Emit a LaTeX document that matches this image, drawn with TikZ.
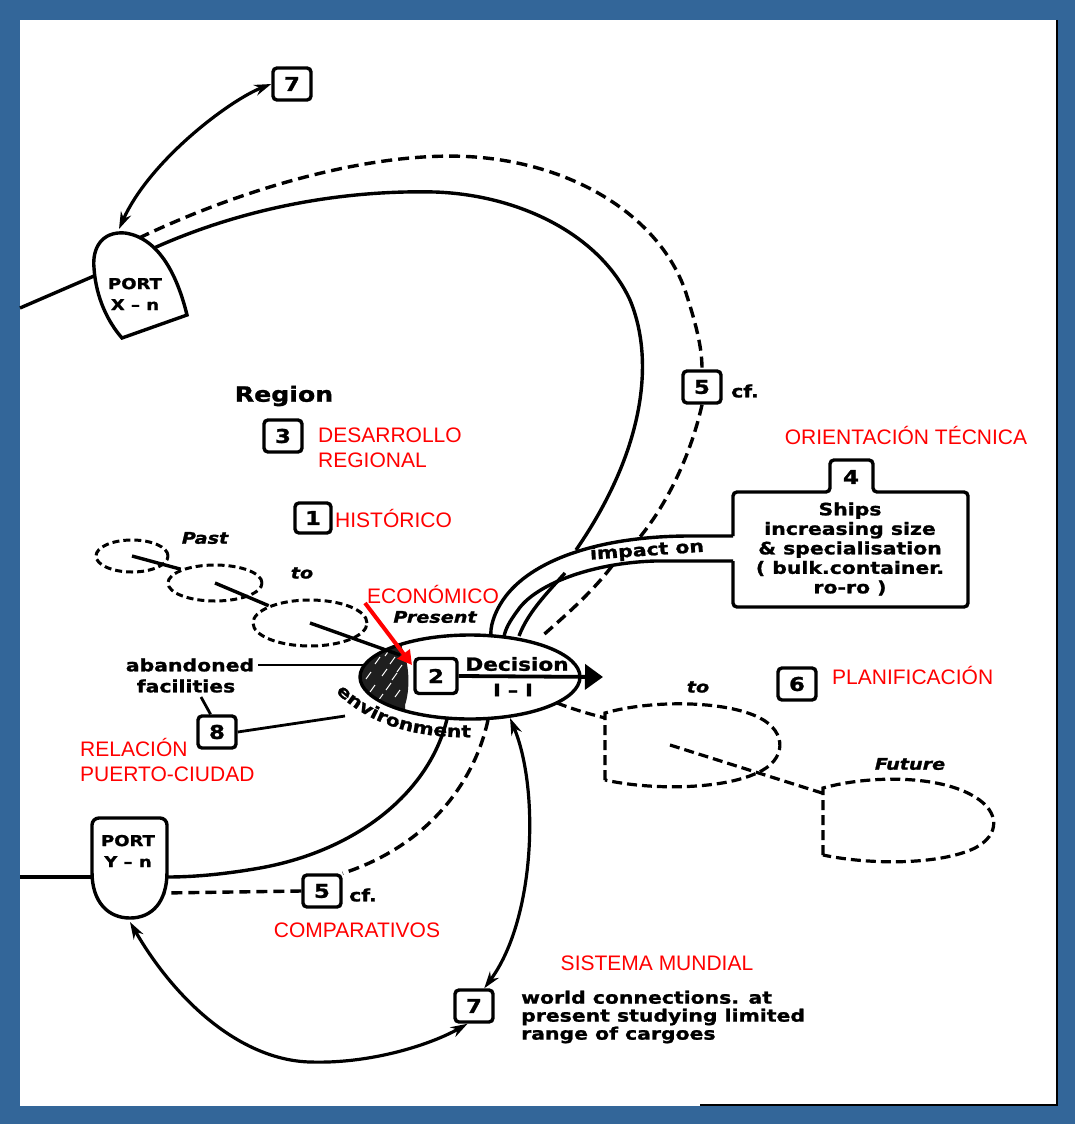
\documentclass[tikz,border=0pt]{standalone}
\usepackage{fontspec}
\setmainfont{Liberation Sans}
\newfontfamily\dfont[FakeStretch=1.2, BoldFeatures={FakeBold=1.3}, BoldItalicFeatures={FakeBold=1.3}]{DejaVu Sans}
\usetikzlibrary{arrows.meta,decorations.text,shapes.geometric}
\definecolor{frameblue}{RGB}{51,102,153}
\begin{document}
\begin{tikzpicture}[x=1pt,y=-1pt,
  ln/.style={line width=3.4pt},
  dsh/.style={line width=3.4pt, dash pattern=on 11pt off 6pt},
  edsh/.style={line width=3pt, dash pattern=on 7pt off 4pt},
  fdsh/.style={line width=3.2pt, dash pattern=on 10pt off 5pt},
  numbox/.style={draw, line width=3.4pt, rounded corners=4pt, minimum width=38pt, minimum height=32pt, inner sep=0pt, fill=white, font=\dfont\bfseries\fontsize{19}{19}\selectfont},
  blk/.style={inner sep=0pt, font=\dfont\bfseries\fontsize{17}{19.5}\selectfont},
  ital/.style={inner sep=0pt, font=\dfont\bfseries\itshape\fontsize{16}{16}\selectfont},
  rlbl/.style={inner sep=0pt, text=red, font=\fontsize{21}{25}\selectfont},
  dbl/.style={line width=3.2pt, {Stealth[length=17pt,width=11pt]}-{Stealth[length=17pt,width=11pt]}},
]
% frame
\fill[frameblue] (0,0) rectangle (1075,1124);
\fill[white] (20,20) rectangle (1058,1106);
\draw[line width=2pt] (1057,20) -- (1057,1105) -- (700,1105);

% ---------- PORT X-n ----------
\draw[ln] (122,338) -- (187,315) .. controls (178,278) and (160,238) .. (125,233) .. controls (102,231) and (92,248) .. (94,268) .. controls (96,298) and (108,322) .. (122,338) -- cycle;
\node[blk, font=\dfont\bfseries\fontsize{15}{21}\selectfont, align=center] (portx) at (135,294) {PORT\\X – n};
\coordinate (pxtop) at (119,229);
\coordinate (pxw) at (94,276);
\coordinate (lb1) at (20,308);
\coordinate (pxsolid) at (154,248);
\coordinate (pxdash) at (139,238);
\draw[ln] (lb1) -- (pxw);

% top box 7
\node[numbox] (b7a) at (292,84) {7};
\draw[dbl] (b7a.west) .. controls (230,100) and (150,160) .. (pxtop);

% box 5 upper
\node[numbox] (b5a) at (702,387) {5};
\node[blk] (cfa) at (745,391) {cf.};

% band / box 4
\coordinate (b4w1) at (733,536);
\coordinate (b4w2) at (733,561);
\coordinate (bandjoin) at (576,550);
\coordinate (bandtop) at (640,537);
\coordinate (bandbot) at (612,566);
\coordinate (elltop3) at (540,638);

% solid big loop
\draw[ln] (pxsolid) .. controls (250,205) and (350,190) .. (435,192) .. controls (520,195) and (600,235) .. (630,300) .. controls (655,360) and (645,450) .. (bandjoin);
\draw[ln] (565,573) .. controls (548,592) and (528,612) .. (519,636);
% dashed big loop
\draw[dsh] (pxdash) .. controls (250,185) and (380,150) .. (475,157) .. controls (580,165) and (660,220) .. (685,290) .. controls (698,330) and (702,350) .. (b5a.north);
\draw[dsh] (b5a.south) .. controls (692,450) and (670,500) .. (bandtop);
\draw[dsh] (bandbot) .. controls (590,595) and (560,620) .. (elltop3);

% band lines
\draw[ln] (b4w1) -- (690,536) .. controls (600,536) and (530,560) .. (503,600) .. controls (493,615) and (490,628) .. (491,637);
\draw[ln] (b4w2) -- (655,561) .. controls (590,563) and (535,585) .. (518,610) .. controls (509,622) and (505,630) .. (504,637);
\node[blk, rotate=4] (imp) at (647,551) {impact on};

% box 4
\draw[ln, rounded corners=4pt] (b4w1) -- (733,492) -- (830,492) -- (830,460) -- (873,460) -- (873,492) -- (968,492) -- (968,607) -- (733,607) -- (b4w2);
\node[blk, font=\dfont\bfseries\fontsize{19}{19}\selectfont] (n4) at (851,477) {4};
\node[blk, align=center] (ships) at (850,549) {Ships\\increasing size\\\& specialisation\\( bulk.container.\\ro-ro )};

% ---------- main ellipse ----------
\begin{scope}
\clip (470,677) ellipse [x radius=110pt, y radius=42pt];
\fill[black!88] (340,600) -- (401,600) -- (402,648) .. controls (410,665) and (410,690) .. (405,705) -- (405,760) -- (340,760) -- cycle;
\foreach \a/\b in {370/692,378/701,386/690,382/676,392/680,390/664,397/672,375/664,366/679,395/697,385/656}
  \draw[white, line width=1pt] (\a,\b) -- ++(5,-7);
\end{scope}
\node[draw, ellipse, line width=3.4pt, minimum width=220pt, minimum height=84pt, inner sep=0pt] (ell) at (470,677) {};
\node[numbox, minimum width=42pt, minimum height=35pt] (b2) at (436,676) {2};
\node[blk, font=\dfont\bfseries\fontsize{18}{18}\selectfont] (dec) at (517,664) {Decision};
\node[blk] (ii) at (513,690) {I – I};
\coordinate (decend) at (603,677);
\draw[line width=3.8pt, -{Triangle[length=18pt,width=25pt]}] (b2.east) -- (decend);

% environment
\coordinate (env1) at (328,684);
\coordinate (env2) at (482,737);
\path[decorate, decoration={text along path, text={|\dfont\bfseries\fontsize{17}{17}\selectfont|environment}, text align=center}] (env1) .. controls (362,722) and (410,740) .. (env2);

% ---------- past chain ----------
\node[draw, edsh, ellipse, minimum width=72pt, minimum height=32pt, inner sep=0pt] (pe1) at (132,556) {};
\node[draw, edsh, ellipse, minimum width=94pt, minimum height=36pt, inner sep=0pt] (pe2) at (215,583) {};
\node[draw, edsh, ellipse, minimum width=114pt, minimum height=46pt, inner sep=0pt] (pe3) at (310,623) {};
\coordinate (chainend) at (400,655);
\draw[ln] (pe1.center) -- (pe2.north west);
\draw[ln] (pe2.center) -- (pe3.north west);
\draw[ln] (pe3.center) -- (chainend);
\node[ital] (past) at (205,538) {Past};
\node[ital] (to1) at (302,573) {to};
\node[ital] (pres) at (435,617) {Present};

% red arrow
\coordinate (ra1) at (365,603);
\coordinate (ra2) at (412,665);
\draw[red, line width=4pt, -{Triangle[length=14pt,width=15pt]}] (ra1) -- (ra2);

% ---------- left labels ----------
\node[blk, font=\dfont\bfseries\fontsize{21}{21}\selectfont] (reg) at (284,396) {Region};
\node[numbox] (b3) at (283,436) {3};
\node[numbox, minimum width=36pt, minimum height=30pt] (b1) at (313,518) {1};
\node[blk] (aband) at (190,665) {abandoned};
\node[blk] (facil) at (186,686) {facilities};
\node[numbox] (b8) at (217,732) {8};
\coordinate (abe) at (364,665);
\coordinate (fb) at (201,697);
\coordinate (b8e) at (345,716);
\draw[line width=2.8pt] (aband.east) ++(4,0) -- (abe);
\draw[line width=2.8pt] (fb) -- (b8.110);
\draw[line width=2.8pt] (b8.east) -- (b8e);

% ---------- future ----------
\node[numbox] (b6) at (797,684) {6};
\coordinate (ef) at (557,703);
\coordinate (f1w) at (605,718);
\coordinate (f1c) at (670,745);
\coordinate (f2w) at (822,793);
\draw[fdsh] (605,780) -- (605,713) .. controls (650,700) and (725,700) .. (760,718) .. controls (787,732) and (787,760) .. (757,773) .. controls (720,790) and (650,790) .. (605,780) -- cycle;
\draw[fdsh] (823,855) -- (823,788) .. controls (870,775) and (940,775) .. (975,797) .. controls (1000,812) and (1000,835) .. (975,848) .. controls (940,865) and (870,865) .. (823,855) -- cycle;
\draw[fdsh] (ef) .. controls (575,710) and (590,714) .. (f1w);
\draw[fdsh] (f1c) -- (f2w);
\node[ital] (to2) at (698,687) {to};
\node[ital] (fut) at (910,764) {Future};

% ---------- PORT Y-n ----------
\draw[ln] (92,872) [rounded corners=7pt] -- (92,818) -- (167,818) [sharp corners] -- (167,872) .. controls (167,902) and (152,918) .. (130,918) .. controls (108,918) and (92,902) .. (92,872) -- cycle;
\node[blk, font=\dfont\bfseries\fontsize{15}{21}\selectfont, align=center] (porty) at (128,851) {PORT\\Y – n};
\coordinate (lb2) at (20,877);
\coordinate (pyw) at (92,877);
\coordinate (pyr) at (167,877);
\coordinate (pyd) at (163,893);
\coordinate (pybot) at (130,922);
\draw[ln] (lb2) -- (pyw);

\node[numbox] (b5b) at (322,891) {5};
\node[blk] (cfb) at (363,895) {cf.};
\coordinate (els) at (447,719);
\coordinate (eld) at (488,720);
\coordinate (ela) at (510,718);
\draw[ln] (els) .. controls (430,790) and (360,850) .. (260,868) .. controls (220,875) and (190,877) .. (pyr);
\draw[dsh] (eld) .. controls (475,780) and (430,845) .. (b5b.north east);
\draw[dsh] (b5b.west) -- (pyd);

% ---------- box 7 lower ----------
\node[numbox] (b7b) at (474,1006) {7};
\draw[dbl] (ela) .. controls (540,790) and (535,920) .. (b7b.60);
\draw[dbl] (pybot) .. controls (175,1000) and (240,1060) .. (310,1062) .. controls (370,1064) and (430,1045) .. (b7b.250);
\node[blk, anchor=west, align=left, font=\dfont\bfseries\fontsize{17}{18}\selectfont] (w7) at (521,1017) {world connections. at\\present studying limited\\range of cargoes};

% ---------- red labels ----------
\node[rlbl, align=left, anchor=west] (rdes) at (318,448) {DESARROLLO\\REGIONAL};
\node[rlbl, anchor=west] (rhis) at (335,518) {HISTÓRICO};
\node[rlbl] (reco) at (433,594) {ECONÓMICO};
\node[rlbl] (rori) at (906,435) {ORIENTACIÓN TÉCNICA};
\node[rlbl, anchor=west] (rpla) at (832,675) {PLANIFICACIÓN};
\node[rlbl, align=left, anchor=west] (rrel) at (80,760) {RELACIÓN\\PUERTO-CIUDAD};
\node[rlbl] (rcom) at (357,930) {COMPARATIVOS};
\node[rlbl] (rsis) at (657,963) {SISTEMA MUNDIAL};
\end{tikzpicture}
\end{document}
